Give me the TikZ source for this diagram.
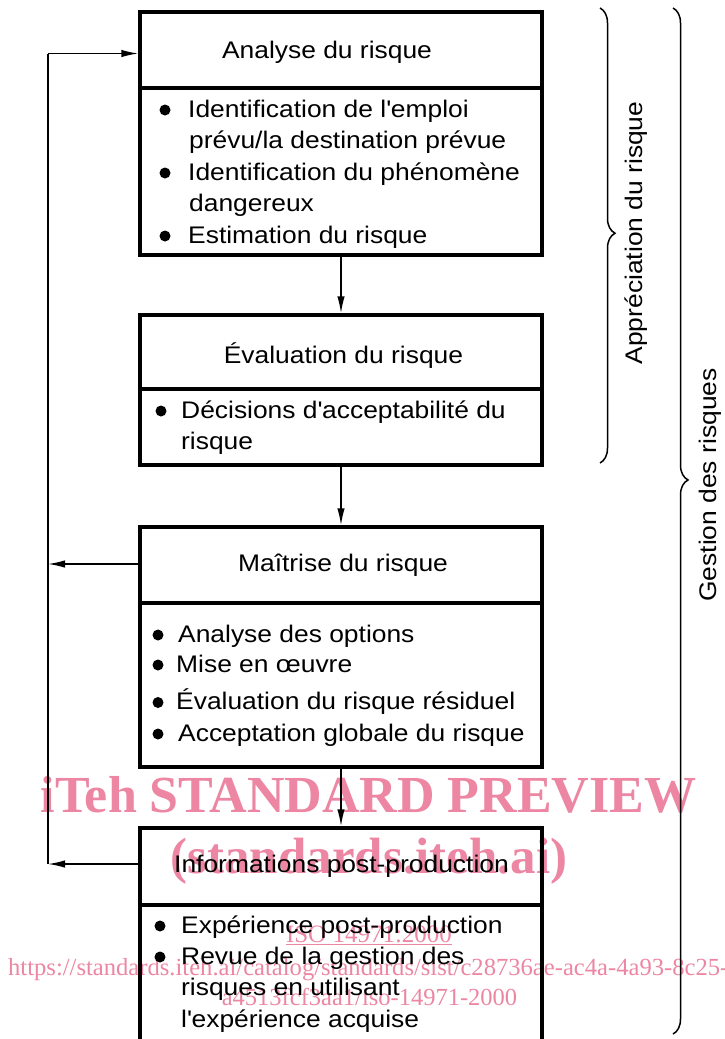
\documentclass[tikz,border=0pt]{standalone}
\usepackage{fontspec}
\setmainfont{Liberation Sans}[FakeStretch=1.1]
\newfontfamily\wmfont{Liberation Serif}
\usetikzlibrary{arrows.meta,decorations.pathreplacing}
\definecolor{wm}{RGB}{236,134,163}
\newcommand\ap{\textquotesingle}
\begin{document}
\begin{tikzpicture}[x=1pt,y=-1pt,
  font=\fontsize{24}{31}\selectfont,
  box/.style={draw, line width=3.5pt, minimum width=402pt, inner sep=0pt},
  div/.style={line width=3.5pt},
  conn/.style={line width=1.5pt},
  arr/.style={line width=1.5pt, -{Latex[length=17pt,width=7.5pt]}},
  txt/.style={anchor=base west, inner sep=0pt},
  ttl/.style={anchor=base, inner sep=0pt},
  bul/.style={fill=black},
  brc/.style={decorate, decoration={brace, amplitude=15pt, aspect=#1}, line width=1.5pt},
  wmt/.style={text=wm, inner sep=0pt, anchor=base}
]
\useasboundingbox (0,0) rectangle (724,1039);
\clip (0,0) rectangle (724,1039);

% watermark (behind)
\node[wmt, font=\wmfont\bfseries\fontsize{52}{52}\selectfont] (w1) at (368.5,812) {iTeh STANDARD PREVIEW};
\node[wmt, font=\wmfont\bfseries\fontsize{51}{51}\selectfont] (w2) at (369,873) {(standards.iteh.ai)};
\node[wmt, font=\wmfont\fontsize{25}{25}\selectfont] (w3) at (369,942) {\underline{ISO 14971:2000}};
\node[wmt, anchor=base west, font=\wmfont\fontsize{24.6}{25}\selectfont] (w4) at (8,975) {https://standards.iteh.ai/catalog/standards/sist/c28736ae-ac4a-4a93-8c25-};
\node[wmt, font=\wmfont\fontsize{24.5}{25}\selectfont] (w5) at (369.5,1005) {a4513fcf3aa1/iso-14971-2000};

% boxes
\node[box, minimum height=243pt] (b1) at (341,133.5) {};
\node[box, minimum height=150pt] (b2) at (341,390) {};
\node[box, minimum height=240pt] (b3) at (341,647) {};
\node[box, minimum height=222pt] (b4) at (341,939) {};
\coordinate (d1) at (0,88);
\coordinate (d2) at (0,389);
\coordinate (d3) at (0,603);
\coordinate (d4) at (0,905);
\draw[div] (b1.west |- d1) -- (b1.east |- d1);
\draw[div] (b2.west |- d2) -- (b2.east |- d2);
\draw[div] (b3.west |- d3) -- (b3.east |- d3);
\draw[div] (b4.west |- d4) -- (b4.east |- d4);

% box 1
\node[ttl] (t1) at (327,58.5) {Analyse du risque};
\fill[bul] (165,110) circle (5.5);
\node[txt] (l1a) at (188,117) {Identification de l\ap emploi};
\node[txt] (l1b) at (189,148.5) {prévu/la destination prévue};
\fill[bul] (165,173) circle (5.5);
\node[txt] (l1c) at (188,180) {Identification du phénomène};
\node[txt] (l1d) at (189,211.5) {dangereux};
\fill[bul] (165,236) circle (5.5);
\node[txt] (l1e) at (188,243) {Estimation du risque};

% box 2
\node[ttl] (t2) at (343.5,363.5) {Évaluation du risque};
\fill[bul] (161,411) circle (5.5);
\node[txt] (l2a) at (181,418) {Décisions d\ap acceptabilité du};
\node[txt] (l2b) at (181,449) {risque};

% box 3
\node[ttl] (t3) at (343,571.5) {Maîtrise du risque};
\fill[bul] (158,635) circle (5.5);
\node[txt] (l3a) at (178,642) {Analyse des options};
\fill[bul] (158,665) circle (5.5);
\node[txt] (l3b) at (176,672) {Mise en œuvre};
\fill[bul] (158,702.5) circle (5.5);
\node[txt] (l3c) at (176,709.5) {Évaluation du risque résiduel};
\fill[bul] (158,734) circle (5.5);
\node[txt] (l3d) at (178,741) {Acceptation globale du risque};

% box 4
\node[ttl] (t4) at (341.5,872) {Informations post-production};
\fill[bul] (160,926) circle (5.5);
\node[txt] (l4a) at (181,933) {Expérience post-production};
\fill[bul] (160,957) circle (5.5);
\node[txt] (l4b) at (181,964) {Revue de la gestion des};
\node[txt] (l4c) at (181,995) {risques en utilisant};
\node[txt] (l4d) at (181,1027) {l\ap expérience acquise};

% connectors
\draw[arr] (b1.south) -- (b2.north);
\draw[arr] (b2.south) -- (b3.north);
\draw[arr] (b3.south) -- (b4.north);
\coordinate (fbtop) at (48,53.5);
\coordinate (fb3) at (48,564);
\coordinate (fb4) at (48,864);
\draw[arr] (b3.west |- fb3) -- (fb3);
\draw[arr] (b4.west |- fb4) -- (fb4);
\draw[conn] (fb4) -- (fbtop);
\draw[arr] (fbtop) -- (b1.west |- fbtop);

% braces
\coordinate (br1a) at (600,8);
\coordinate (br1b) at (600,463);
\coordinate (br2a) at (673,8);
\coordinate (br2b) at (673,1034);
\draw[brc=0.495] (br1a) -- (br1b);
\draw[brc=0.46] (br2a) -- (br2b);
\node[rotate=90, inner sep=0pt] (lab1) at (636,233) {Appréciation du risque};
\node[rotate=90, inner sep=0pt] (lab2) at (710,485) {Gestion des risques};
\end{tikzpicture}
\end{document}
